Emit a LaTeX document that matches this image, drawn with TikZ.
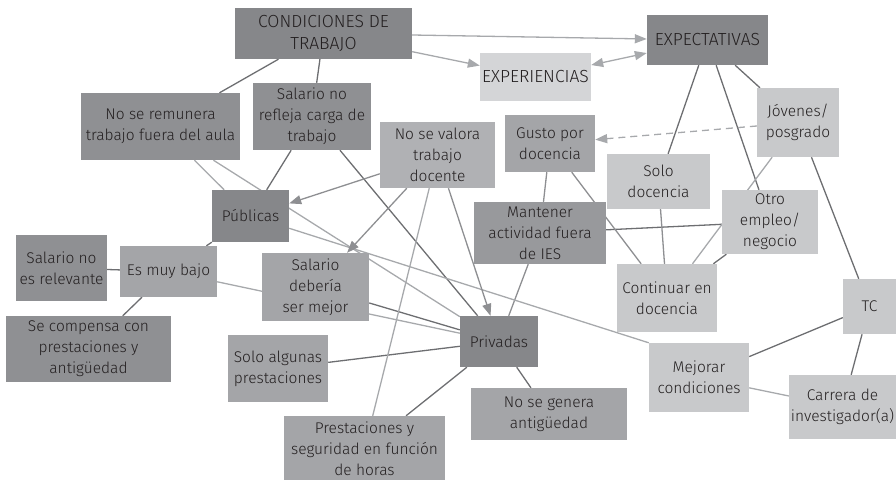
\documentclass[tikz,border=0pt]{standalone}
\usepackage{fontspec}
\setmainfont{Fira Sans Light}
\usetikzlibrary{arrows.meta,backgrounds}

\definecolor{boxA}{HTML}{86878A}
\definecolor{boxB}{HTML}{8F9093}
\definecolor{boxM}{HTML}{98999C}
\definecolor{boxC}{HTML}{A4A5A8}
\definecolor{boxD}{HTML}{B0B1B4}
\definecolor{boxE}{HTML}{C8C9CB}
\definecolor{boxF}{HTML}{D4D5D7}
\definecolor{lnDark}{HTML}{6D6E71}
\definecolor{lnMid}{HTML}{8E8F92}
\definecolor{lnLight}{HTML}{A7A9AC}
\definecolor{txt}{HTML}{231F20}

\begin{document}
\begin{tikzpicture}[x=1pt,y=-1pt,>={Triangle[length=12pt,width=9pt]},
    box/.style={inner sep=0pt,align=center,text=txt,
        font=\fontsize{15.5}{21}\selectfont},
    title/.style={box,font=\fontsize{17.5}{22}\selectfont},
    dkline/.style={draw=lnDark,line width=1.3pt},
    mdline/.style={draw=lnMid,line width=1.3pt},
    ltline/.style={draw=lnLight,line width=1.3pt}]
    \useasboundingbox (0,0) rectangle (896,479);

    % main topics
    \node[title,fill=boxA,minimum width=177pt,minimum height=51pt] (cond) at (323.5,33.5) {CONDICIONES DE\\TRABAJO};
    \node[title,fill=boxA,minimum width=121pt,minimum height=50pt] (expect) at (707.5,40) {EXPECTATIVAS};
    \node[title,fill=boxF,minimum width=111pt,minimum height=48pt] (exper) at (535.5,77) {EXPERIENCIAS};

    % working conditions side
    \node[box,fill=boxB,minimum width=159pt,minimum height=67pt] (remun) at (160.5,126.5) {No se remunera\\trabajo fuera del aula};
    \node[box,fill=boxB,minimum width=118pt,minimum height=67pt] (refleja) at (312,116.5) {Salario no\\refleja carga de\\trabajo};
    \node[box,fill=boxD,minimum width=115pt,minimum height=66pt] (valora) at (437.5,155) {No se valora\\trabajo\\docente};
    \node[box,fill=boxA,minimum width=77pt,minimum height=52pt] (publicas) at (250.5,216) {Públicas};
    \node[box,fill=boxB,minimum width=91pt,minimum height=66pt] (relev) at (61.5,268) {Salario no\\es relevante};
    \node[box,fill=boxC,minimum width=97pt,minimum height=51pt] (bajo) at (168.5,271.5) {Es muy bajo};
    \node[box,fill=boxC,minimum width=107pt,minimum height=68pt] (deberia) at (315.5,287) {Salario\\debería\\ser mejor};
    \node[box,fill=boxB,minimum width=165pt,minimum height=66pt] (compensa) at (88.5,349) {Se compensa con\\prestaciones y\\antigüedad};
    \node[box,fill=boxA,minimum width=78pt,minimum height=51pt] (privadas) at (499,341.5) {Privadas};
    \node[box,fill=boxC,minimum width=100pt,minimum height=67pt] (algunas) at (278,368.5) {Solo algunas\\prestaciones};
    \node[box,fill=boxC,minimum width=156pt,minimum height=52pt] (nogenera) at (549,414) {No se genera\\antigüedad};
    \node[box,fill=boxC,minimum width=161pt,minimum height=66pt] (prestac) at (364.5,449) {Prestaciones y\\seguridad en función\\de horas};

    % expectations side
    \node[box,fill=boxC,minimum width=90pt,minimum height=57pt] (gusto) at (550,143.5) {Gusto por\\docencia};
    \node[box,fill=boxE,minimum width=103pt,minimum height=55pt] (solo) at (658.5,181.5) {Solo\\docencia};
    \node[box,fill=boxE,minimum width=82pt,minimum height=69pt] (jovenes) at (798,122.5) {Jóvenes/\\posgrado};
    \node[box,fill=boxE,minimum width=96pt,minimum height=64pt] (otro) at (770,222) {Otro\\empleo/\\negocio};
    \node[box,fill=boxM,minimum width=132pt,minimum height=62pt] (mantener) at (540,233) {Mantener\\actividad fuera\\de IES};
    \node[box,fill=boxE,minimum width=100pt,minimum height=68pt] (continuar) at (667,298) {Continuar en\\docencia};
    \node[box,fill=boxE,minimum width=53pt,minimum height=55pt] (tc) at (869.5,306.5) {TC};
    \node[box,fill=boxE,minimum width=100pt,minimum height=69pt] (mejorar) at (699,377.5) {Mejorar\\condiciones};
    \node[box,fill=boxE,minimum width=107pt,minimum height=64pt] (carrera) at (842.5,407) {Carrera de\\investigador(a)};

    \begin{scope}[on background layer]
        % dark connectors
        \foreach \a/\b in {cond/remun,cond/refleja,refleja/publicas,refleja/privadas,
            publicas/bajo,bajo/relev,bajo/compensa,deberia/privadas,algunas/privadas,
            prestac/privadas,nogenera/privadas,mantener/otro,expect/solo,expect/otro,
            expect/jovenes,otro/continuar,jovenes/tc,tc/mejorar,tc/carrera}
            \draw[dkline] (\a) -- (\b);
        % middle grey connectors
        \foreach \a/\b in {gusto/mantener,gusto/continuar,mantener/privadas,solo/continuar}
            \draw[mdline] (\a) -- (\b);
        % light connectors
        \foreach \a/\b in {remun/publicas,remun/privadas,publicas/mejorar.north west,
            bajo/privadas,valora/prestac,jovenes/continuar,mejorar/carrera}
            \draw[ltline] (\a) -- (\b);

        % arrows
        \draw[ltline,->] (cond) -- (expect);
        \draw[ltline,->] (cond) -- (exper);
        \draw[ltline,<->] (exper) -- (expect);
        \foreach \b in {publicas,deberia,privadas}
            \draw[mdline,->] (valora) -- (\b);
        \draw[ltline,dash pattern=on 7pt off 5pt,->] (jovenes) -- (gusto);
    \end{scope}
\end{tikzpicture}
\end{document}
